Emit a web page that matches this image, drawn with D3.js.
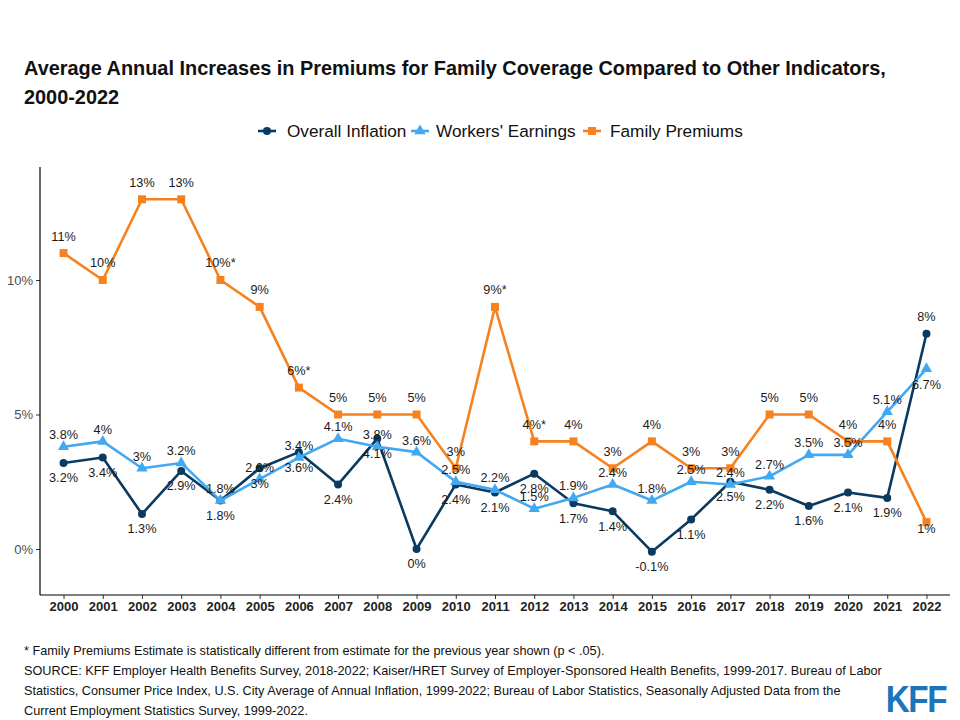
<!DOCTYPE html>
<html>
<head>
<meta charset="utf-8">
<script src="https://cdn.jsdelivr.net/npm/d3@7"></script>
<style>
  html, body { margin: 0; padding: 0; background: #fff; }
  svg { display: block; font-family: "Liberation Sans", Arial, sans-serif; }
</style>
</head>
<body>
<svg id="chart" width="960" height="720"></svg>
<script>
// ---------- data ----------
const years = ["2000","2001","2002","2003","2004","2005","2006","2007","2008","2009","2010","2011",
               "2012","2013","2014","2015","2016","2017","2018","2019","2020","2021","2022"];
const overallInflation = [3.2, 3.4, 1.3, 2.9, 1.8, 3.0, 3.6, 2.4, 4.1, 0, 2.4, 2.1,
                          2.8, 1.7, 1.4, -0.1, 1.1, 2.5, 2.2, 1.6, 2.1, 1.9, 8];
const workersEarnings = [3.8, 4, 3, 3.2, 1.8, 2.6, 3.4, 4.1, 3.8, 3.6, 2.5, 2.2,
                         1.5, 1.9, 2.4, 1.8, 2.5, 2.4, 2.7, 3.5, 3.5, 5.1, 6.7];
const familyPremiums = [11, 10, 13, 13, 10, 9, 6, 5, 5, 5, 3, 9,
                        4, 4, 3, 4, 3, 3, 5, 5, 4, 4, 1];
// years where the family premium estimate differs significantly from the prior year
const significantYears = ["2004", "2006", "2011", "2012"];
// years where labels are placed on the opposite side
const flippedLabelYears = ["2022"];
const yTicks = [0, 5, 10];

const seriesNames = ["Overall Inflation", "Workers' Earnings", "Family Premiums"];
const seriesColors = ["#0a3a5f", "#41a8f2", "#f5821f"];

// ---------- layout ----------
const svg = d3.select("#chart");
const plotL = 40, plotR = 950, plotT = 167, plotB = 595;

const x = d3.scalePoint().domain(years).range([plotL, plotR]).padding(0.6);
const y = d3.scaleLinear().domain([-1.71, 14.2]).range([plotB, plotT]);

// title
const title = svg.append("text")
  .attr("font-size", 19.9).attr("font-weight", "bold").attr("fill", "#111");
title.append("tspan").attr("x", 24).attr("y", 75)
  .text("Average Annual Increases in Premiums for Family Coverage Compared to Other Indicators,");
title.append("tspan").attr("x", 24).attr("y", 104).text("2000-2022");

// axes
const yAxis = svg.append("g").attr("transform", `translate(${plotL},0)`)
  .call(d3.axisLeft(y).tickValues(yTicks).tickFormat(d => d + "%").tickSize(4).tickPadding(3));
yAxis.select(".domain").remove();
yAxis.selectAll("line").attr("stroke", "#333");
yAxis.selectAll("text").attr("font-size", 13).attr("fill", "#4d4d4d")
  .attr("font-family", "Liberation Sans, Arial, sans-serif");

const xAxis = svg.append("g").attr("transform", `translate(0,${plotB})`)
  .call(d3.axisBottom(x).tickSize(4).tickPadding(3));
xAxis.select(".domain").remove();
xAxis.selectAll("line").attr("stroke", "#333");
xAxis.selectAll("text").attr("font-size", 13).attr("font-weight", "bold").attr("fill", "#222")
  .attr("font-family", "Liberation Sans, Arial, sans-serif");

svg.append("line").attr("x1", plotL).attr("x2", plotL).attr("y1", plotT).attr("y2", plotB)
  .attr("stroke", "#000").attr("stroke-width", 1.2);
svg.append("line").attr("x1", plotL).attr("x2", plotR).attr("y1", plotB).attr("y2", plotB)
  .attr("stroke", "#000").attr("stroke-width", 1.2);

// series
const series = [
  { name: seriesNames[0], values: overallInflation, color: seriesColors[0], shape: d3.symbolCircle, size: 50, side: 1 },
  { name: seriesNames[1], values: workersEarnings, color: seriesColors[1], shape: d3.symbolTriangle, size: 55, side: -1 },
  { name: seriesNames[2], values: familyPremiums, color: seriesColors[2], shape: d3.symbolSquare, size: 64, side: -1 }
];

const line = d3.line().x((d, i) => x(years[i])).y(d => y(d));

series.forEach(s => {
  svg.append("path").datum(s.values)
    .attr("d", line).attr("fill", "none")
    .attr("stroke", s.color).attr("stroke-width", 2.6).attr("stroke-linejoin", "round");
  svg.append("g").selectAll("path").data(s.values).join("path")
    .attr("transform", (d, i) => `translate(${x(years[i])},${y(d)})`)
    .attr("d", d3.symbol().type(s.shape).size(s.size))
    .attr("fill", s.color);
});

// labels
const fmt = v => (Math.round(v * 10) / 10) + "%";
series.forEach((s, si) => {
  svg.append("g").selectAll("text").data(s.values).join("text")
    .attr("x", (d, i) => x(years[i]))
    .attr("y", (d, i) => {
      let side = s.side;
      if (flippedLabelYears.includes(years[i])) side = -side;
      let off;
      if (si === 0) off = side > 0 ? 15 : -17;
      else if (si === 1) off = side < 0 ? -12 : 16;
      else off = side < 0 ? -17 : 6;
      return y(d) + off;
    })
    .attr("dy", "0.35em")
    .attr("text-anchor", "middle")
    .attr("font-size", 12.7).attr("fill", "#1a1a1a")
    .text((d, i) => fmt(d) + (si === 2 && significantYears.includes(years[i]) ? "*" : ""));
});

// legend
const legendItems = [
  { name: seriesNames[0], color: seriesColors[0], shape: d3.symbolCircle, size: 50, kx: 267, tx: 287 },
  { name: seriesNames[1], color: seriesColors[1], shape: d3.symbolTriangle, size: 55, kx: 420, tx: 436 },
  { name: seriesNames[2], color: seriesColors[2], shape: d3.symbolSquare, size: 64, kx: 592, tx: 610 }
];
const legendY = 131;
legendItems.forEach(it => {
  svg.append("line").attr("x1", it.kx - 9).attr("x2", it.kx + 9)
    .attr("y1", legendY).attr("y2", legendY)
    .attr("stroke", it.color).attr("stroke-width", 2.6);
  svg.append("path").attr("transform", `translate(${it.kx},${legendY})`)
    .attr("d", d3.symbol().type(it.shape).size(it.size)).attr("fill", it.color);
  svg.append("text").attr("x", it.tx).attr("y", legendY).attr("dy", "0.35em")
    .attr("font-size", 17.2).attr("fill", "#111").text(it.name);
});

// footnotes
const notes = [
  "* Family Premiums Estimate is statistically different from estimate for the previous year shown (p < .05).",
  "SOURCE: KFF Employer Health Benefits Survey, 2018-2022; Kaiser/HRET Survey of Employer-Sponsored Health Benefits, 1999-2017. Bureau of Labor",
  "Statistics, Consumer Price Index, U.S. City Average of Annual Inflation, 1999-2022; Bureau of Labor Statistics, Seasonally Adjusted Data from the",
  "Current Employment Statistics Survey, 1999-2022."
];
svg.append("g").selectAll("text").data(notes).join("text")
  .attr("x", 24).attr("y", (d, i) => 655 + i * 20)
  .attr("font-size", 12.7).attr("fill", "#111").text(d => d);

// KFF logo
svg.append("text")
  .attr("transform", "translate(916,712) scale(0.9,1)")
  .attr("text-anchor", "middle")
  .attr("font-size", 37).attr("font-weight", "bold").attr("fill", "#1b75bb")
  .attr("letter-spacing", -1.5)
  .text("KFF");
</script>
</body>
</html>
